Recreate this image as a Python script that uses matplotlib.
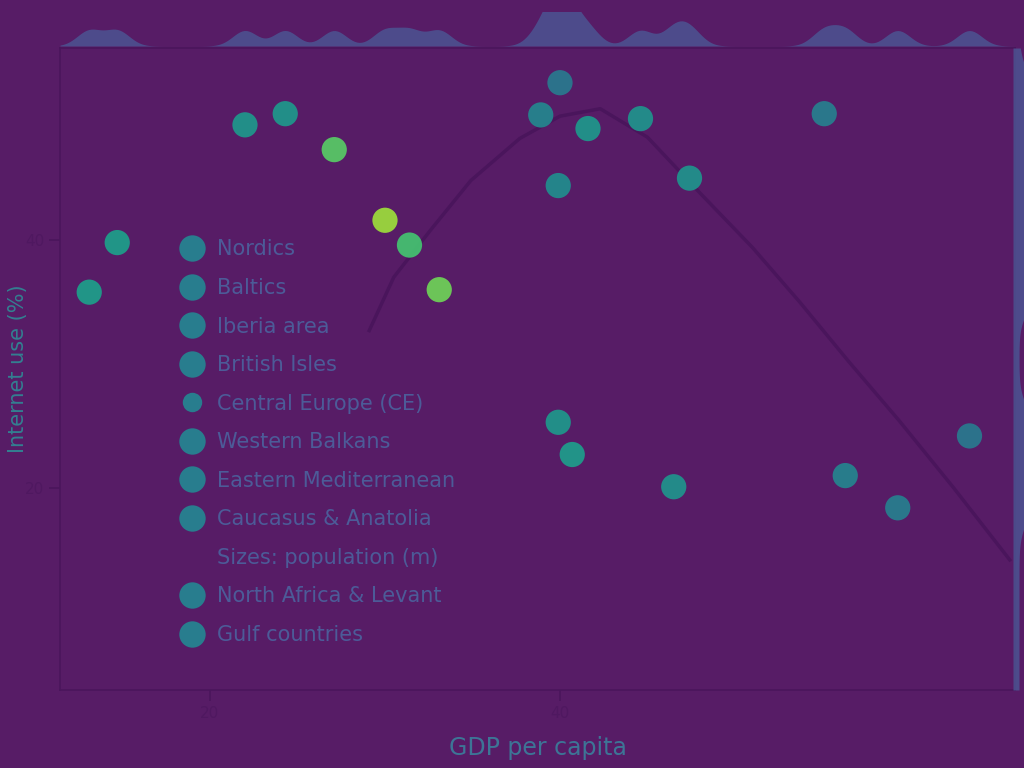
import numpy as np
import matplotlib
matplotlib.use('Agg')
import matplotlib.pyplot as plt
from matplotlib.lines import Line2D

# --- data ---
gdp = [22.0, 24.3, 27.1, 30.0, 31.4, 33.1, 14.7, 13.1, 38.9, 40.0,
       41.6, 44.6, 47.4, 39.9, 55.1, 39.9, 40.7, 46.5, 56.3, 59.3, 63.4]
internet = [49.3, 50.2, 47.3, 41.6, 39.6, 36.0, 39.8, 35.8, 50.1, 52.7,
            49.0, 49.8, 45.0, 44.4, 50.2, 25.3, 22.7, 20.1, 21.0, 18.4, 24.2]
density = [0.52, 0.52, 0.74, 0.85, 0.70, 0.78, 0.55, 0.55, 0.45, 0.40,
           0.52, 0.50, 0.50, 0.48, 0.42, 0.52, 0.54, 0.50, 0.44, 0.42, 0.40]

regions = ['Nordics', 'Baltics', 'Iberia area', 'British Isles',
           'Central Europe (CE)', 'Western Balkans', 'Eastern Mediterranean',
           'Caucasus & Anatolia', 'Sizes: population (m)',
           'North Africa & Levant', 'Gulf countries']

# fitted trend curve
trend_x = [29.1, 30.5, 32.6, 34.9, 37.7, 40.0, 42.3, 45.0, 48.0, 51.0, 53.7, 56.5, 59.4, 62.5, 65.7]
trend_y = [32.7, 37.0, 40.8, 44.8, 48.2, 50.0, 50.6, 48.3, 43.8, 39.4, 35.0, 30.2, 25.4, 20.0, 14.2]

x_ticks = [20, 40]
y_ticks = [20, 40]

bg = '#571c66'
dark = '#4a155c'

fig = plt.figure(figsize=(10.24, 7.68), dpi=100, facecolor=bg)

ax = fig.add_axes([60 / 1024, 1 - 690 / 768, 955 / 1024, 642 / 768])
ax.set_facecolor(bg)
ax.set_xlim(11.43, 66.0)
ax.set_ylim(3.7, 55.5)

ax.plot(trend_x, trend_y, color=dark, lw=2.5, zorder=1)
ax.scatter(gdp, internet, c=density, cmap='viridis', vmin=0, vmax=1,
           s=330, edgecolors='none', alpha=0.95, zorder=3)

for s in ax.spines.values():
    s.set_color(dark)
    s.set_linewidth(1.2)
ax.set_xticks(x_ticks)
ax.set_yticks(y_ticks)
ax.tick_params(colors=dark, labelcolor='#4f1860', labelsize=11, length=8, width=1.2)

ax.set_xlabel('GDP per capita', color='#3d7596', fontsize=17, labelpad=11)
ax.set_ylabel('Internet use (%)', color='#337f91', fontsize=15)
ax.yaxis.set_label_coords(-0.033, 0.5)

# legend
cmap = plt.get_cmap('viridis')
handles = []
for i, name in enumerate(regions):
    if i == 8:
        handles.append(Line2D([], [], ls='none', marker='o', markersize=0, label=name))
    else:
        ms = 14 if i == 4 else 19
        handles.append(Line2D([], [], ls='none', marker='o', markersize=ms,
                              markerfacecolor=cmap(0.42), markeredgecolor='none', label=name))
leg = ax.legend(handles=handles, loc='upper left', bbox_to_anchor=(0.106, 0.731),
                frameon=False, fontsize=15, labelspacing=0.89, handletextpad=0.6,
                handlelength=1.2)
for t in leg.get_texts():
    t.set_color('#4c5b98')

# marginal KDEs
def kde(vals, grid, bw):
    vals = np.asarray(vals)
    return np.exp(-0.5 * ((grid[:, None] - vals[None, :]) / bw) ** 2).sum(axis=1)

axt = fig.add_axes([60 / 1024, 1 - 46 / 768, 955 / 1024, 34 / 768])
gx = np.linspace(11.43, 66.0, 400)
axt.fill_between(gx, kde(gdp, gx, 0.7), color='#4b5895', alpha=0.8, lw=0)
axt.set_xlim(11.43, 66.0)
axt.set_ylim(0, 2.2)
axt.axis('off')

axr = fig.add_axes([1013 / 1024, 1 - 690 / 768, 30 / 1024, 642 / 768])
gy = np.linspace(3.7, 55.5, 400)
axr.fill_betweenx(gy, kde(internet, gy, 1.5) + 0.8, color='#4b5895', alpha=0.8, lw=0)
axr.set_ylim(3.7, 55.5)
axr.set_xlim(0, 4)
axr.axis('off')

fig.savefig('out.png', dpi=100, facecolor=bg)
